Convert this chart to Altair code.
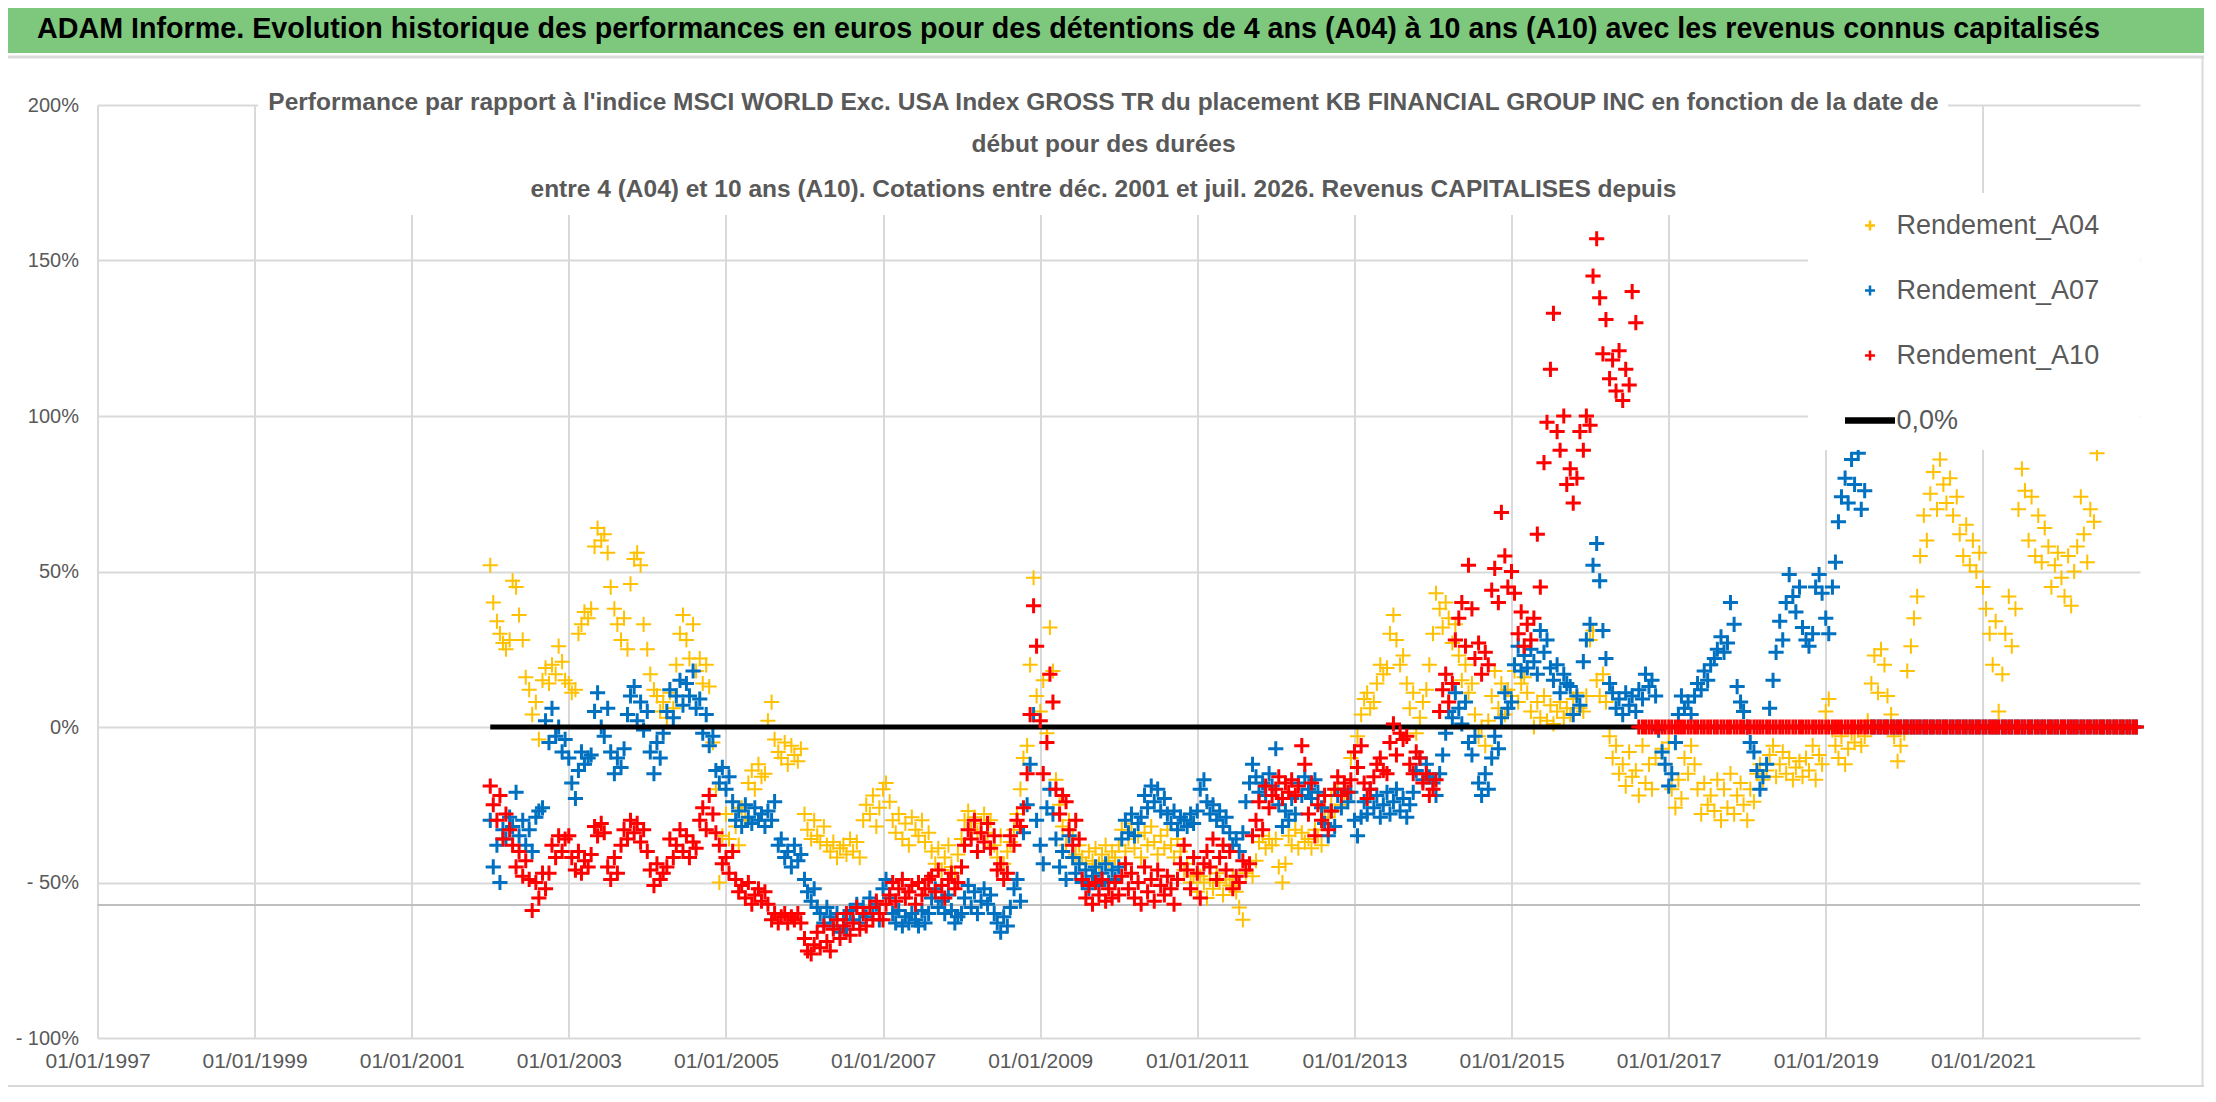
import altair as alt
import pandas as pd

FONT = "Liberation Sans, Arial, sans-serif"
GREY_TXT = "#595959"
GRID = "#d9d9d9"

TITLE = ("ADAM Informe. Evolution historique des performances en euros pour des détentions "
         "de 4 ans (A04) à 10 ans (A10) avec les revenus connus capitalisés")
SUBTITLE = [
    "Performance par rapport à l'indice MSCI WORLD Exc. USA Index GROSS TR  du placement KB FINANCIAL GROUP INC en fonction de la date de",
    "début pour des durées",
    "entre 4 (A04) et 10 ans (A10). Cotations entre déc. 2001 et juil. 2026. Revenus CAPITALISES depuis",
]

SERIES = ["Rendement_A04", "Rendement_A07", "Rendement_A10"]
LEGEND_LABELS = SERIES + ["0,0%"]
COLORS = ["#FFC000", "#0070C0", "#FF0000", "#000000"]
PLUS = "M-1,0H1M0,-1V1"
DASH = "M-5,-0.4H5M-5,0H5M-5,0.4H5"
SHAPES = [PLUS, PLUS, PLUS, DASH]

X_TICK_YEARS = [1997, 1999, 2001, 2003, 2005, 2007, 2009, 2011, 2013, 2015, 2017, 2019, 2021]
Y_TICKS = [-100, -50, 0, 50, 100, 150, 200]
REF_LINE = [-57.2]
ZERO_LINE_DATES = ["2002-01-01", "2022-12-15"]
ZERO_LINE_VALUES = [0.0, 0.0]

# semi-monthly readings (1st and 15th of each month) starting 2002-01-01, in %
A04 = [
    52, 40, 34, 30, 27, 25, 28, 47, 45, 36, 28, 16, 12, 4, 8, -4, 15, 19, 14, 20, 17, 26, 21, 15,  # 2002
    14, 11, 12, 30, 33, 37, 35, 38, 58, 64, 60, 62, 56, 45, 38, 33, 28, 35, 25, 46, 54, 56, 52, 33,  # 2003
    25, 17, 12, 10, 5, 8, 3, 11, 6, 20, 30, 36, 28, 22, 33, 18, 22, 14, 20, 13, -5, -20, -50, -35,  # 2004
    -28, -36, -24, -32, -38, -26, -30, -18, -14, -20, -12, -16, -15, 2, 8, -4, -8, -10, -5, -12, -6, -9, -11, -7,  # 2005
    -28, -33, -36, -30, -35, -37, -32, -38, -40, -37, -42, -39, -38, -41, -36, -40, -37, -42, -30, -25, -28, -22, -32, -26,  # 2006
    -20, -18, -24, -30, -34, -28, -36, -31, -38, -29, -33, -35, -30, -37, -34, -40, -44, -39, -46, -42, -38, -45, -47, -41,  # 2007
    -36, -30, -27, -33, -29, -34, -31, -28, -34, -30, -38, -42, -35, -44, -40, -37, -33, -28, -20, -10, -6, 20, 48, 10,  # 2008
    5, 15, -2, 32, 18, -17, -25, -32, -38, -30, -35, -41, -38, -42, -44, -40, -43, -39, -44, -41, -38, -43, -40, -42,  # 2009
    -38, -33, -40, -36, -31, -39, -35, -42, -34, -38, -32, -37, -41, -35, -39, -33, -38, -42, -36, -40, -46, -44, -50, -48,  # 2010
    -53, -48, -50, -55, -49, -52, -47, -50, -54, -49, -51, -48, -53, -58, -62, -47, -44, -48, -43, -37, -35, -39, -36, -38,  # 2011
    -36, -45, -50, -44, -35, -38, -33, -39, -34, -37, -36, -39, -33, -35, -38, -26, -29, -22, -27, -20, -25, -21, -24, -10,  # 2012
    -8, -3, 4, 9, 11, 6, 8, 14, 20, 17, 19, 30, 36, 28, 20, 23, 14, 6, 11, -2, 3, 8, 12, 20,  # 2013
    30, 43, 38, 32, 40, 35, 27, 33, 23, 15, 20, 11, 14, 4, -3, 0, -6, 2, 10, 18, 6, 14, 4, 12,  # 2014
    10, 18, 8, 14, 16, 11, 5, 0, 8, 3, 10, 2, 7, 1, 5, 8, 3, 6, 4, 9, 11, 6, 5, 10,  # 2015
    28, 31, 15, 10, 17, 8, -3, -10, -6, -15, -12, -19, -8, -16, -14, -22, -6, -18, -12, -20, -10, -1, -7, -12,  # 2016
    -5, -20, -26, -17, -23, -10, -15, -6, -12, -20, -28, -18, -25, -22, -27, -17, -30, -20, -26, -15, -28, -22, -18, -25,  # 2017
    -30, -20, -24, -15, -12, -17, -14, -9, -6, -16, -12, -8, -15, -10, -17, -13, -11, -16, -10, -14, -6, -17, -9, -12,  # 2018
    5, 9, -1, -6, -10, -3, -12, -7, -2, -5, -1, -6, -3, 2, 14, 23, 11, 25, 20, 10, 4, -3, -11, -6,  # 2019
    -2, 18, 26, 35, 42, 55, 68, 60, 75, 82, 70, 86, 78, 72, 80, 68, 74, 62, 55, 65, 52, 60, 50, 56,  # 2020
    45, 38, 30, 20, 34, 5, 17, 30, 42, 26, 38, 70, 83, 76, 60, 74, 55, 68, 53, 64, 58, 45, 52, 56,  # 2021
    48, 42, 55, 39, 50, 58, 74, 62, 53, 70, 66, 88,  # 2022 (first half)
]
A04_ZEROS = [0.0] * 12

A07 = [
    -30, -45, -38, -50, -33, -36, -29, -32, -21, -35, -30, -38, -33, -40, -29, -27, -26, 2, -5, 6, -3, 0, -8, -4,  # 2002
    -10, -18, -23, -14, -8, -12, -10, -9, 5, 11, 0, -3, 6, -8, -15, -10, -13, -7, 4, 10, 13, 2, 8, -1,  # 2003
    5, -8, -15, -5, -10, -2, 5, 12, 3, 10, 15, 7, 14, 10, 18, 6, 9, -2, 4, -6, -3, -14, -18, -13,  # 2004
    -20, -16, -24, -30, -27, -32, -25, -29, -31, -26, -30, -28, -32, -27, -30, -24, -38, -36, -42, -40, -45, -38, -43, -41,  # 2005
    -49, -53, -56, -52, -58, -60, -63, -58, -61, -64, -60, -66, -62, -65, -59, -62, -57, -63, -58, -61, -55, -60, -57, -62,  # 2006
    -52, -49, -55, -60, -63, -59, -64, -61, -63, -60, -62, -64, -59, -63, -60, -55, -52, -58, -56, -60, -54, -59, -63, -61,  # 2007
    -60, -55, -51, -58, -53, -60, -56, -52, -57, -54, -60, -63, -66, -61, -64, -58, -52, -49, -56, -34, -25, -12, 4, -30,  # 2008
    -38, -44, -26, -20, -28, -36, -45, -40, -49, -35, -42, -47, -44, -50, -46, -52, -48, -45, -51, -47, -44, -50, -46, -49,  # 2009
    -45, -36, -30, -34, -28, -35, -31, -29, -22, -26, -19, -24, -20, -27, -23, -28, -31, -27, -33, -29, -30, -32, -28, -31,  # 2010
    -27, -20, -17, -24, -28, -25, -30, -27, -32, -29, -34, -38, -36, -40, -34, -24, -18, -12, -16, -21, -18, -22, -15, -19,  # 2011
    -7, -25, -32, -27, -30, -23, -28, -18, -22, -16, -20, -23, -17, -21, -26, -31, -35, -27, -32, -22, -26, -20, -24, -21,  # 2012
    -30, -35, -29, -24, -28, -20, -26, -22, -29, -25, -21, -28, -24, -20, -27, -23, -29, -25, -21, -14, -10, -17, -12, -16,  # 2013
    -18, -22, -15, -9, -2, 5, 3, 11, 6, 1, 8, -5, -9, -3, -18, -22, -15, -20, -10, -3, -7, 3, 11, 6,  # 2014
    8, 20, 26, 18, 23, 19, 25, 21, 17, 31, 24, 28, 19, 15, 20, 11, 17, 14, 13, 4, 10, 7, 21, 28,  # 2015
    33, 52, 59, 47, 31, 22, 14, 11, 6, 9, 4, 11, 7, 10, 5, 12, 9, 17, 13, 15, 10, -1, -8, -12,  # 2016
    -19, -15, -5, 4, 10, 6, 8, 4, 10, 14, 12, 18, 15, 20, 22, 25, 29, 24, 27, 40, 33, 13, 8, 5,  # 2017
    0, -5, -8, -14, -20, -16, -12, 6, 15, 24, 34, 28, 40, 49, 42, 37, 45, 32, 28, 26, 30, 45, 49, 43,  # 2018
    35, 30, 45, 53, 66, 74, 80, 72, 86, 78, 88, 70, 76, 95,  # 2019 (to mid-July)
]
A07_ZEROS = [0.0] * 82

A10 = [
    -19, -25, -30, -22, -36, -28, -33, -38, -45, -40, -48, -43, -49, -59, -50, -55, -47, -52, -47, -38, -42, -35, -40, -36,  # 2002
    -35, -42, -46, -40, -47, -43, -45, -41, -32, -35, -31, -34, -45, -49, -42, -47, -38, -33, -36, -30, -34, -31, -37, -33,  # 2003
    -40, -46, -51, -44, -49, -47, -45, -36, -42, -38, -33, -40, -35, -42, -37, -39, -30, -26, -33, -22, -28, -34, -38, -44,  # 2004
    -42, -47, -40, -49, -53, -51, -55, -50, -57, -54, -52, -56, -53, -57, -62, -60, -63, -61, -60, -63, -61, -62, -60, -63,  # 2005
    -68, -72, -73, -70, -66, -71, -64, -69, -72, -65, -62, -68, -64, -60, -67, -63, -58, -65, -60, -64, -58, -62, -56, -60,  # 2006
    -62, -57, -54, -50, -56, -52, -49, -55, -53, -51, -57, -50, -54, -52, -49, -48, -53, -46, -51, -55, -49, -47, -52, -50,  # 2007
    -45, -38, -33, -36, -30, -40, -34, -37, -31, -39, -35, -46, -44, -49, -47, -35, -38, -30, -32, -26, -15, 4, 39, 26,  # 2008
    2, -15, -5, 17, 8, -20, -28, -22, -24, -33, -38, -30, -36, -49, -55, -51, -57, -50, -54, -49, -56, -52, -55, -50,  # 2009
    -54, -48, -44, -52, -47, -55, -50, -57, -45, -53, -49, -56, -46, -51, -54, -48, -52, -57, -49, -44, -38, -46, -52, -42,  # 2010
    -47, -55, -44, -40, -45, -36, -49, -42, -38, -46, -40, -52, -48, -50, -43, -46, -44, -35, -30, -24, -33, -19, -26, -22,  # 2011
    -20, -16, -23, -18, -21, -17, -22, -19, -6, -12, -28, -18, -35, -25, -30, -22, -33, -27, -20, -16, -22, -18, -21, -17,  # 2012
    -8, -13, -6, -18, -23, -20, -16, -12, -10, -14, -15, -5, 1, -9, -2, -4, -3, -12, -15, -8, -10, -18, -15, -22,  # 2013
    -20, -17, 5, 12, 17, 8, 14, 28, 35, 40, 26, 52, 38, 22, 27, 17, 24, 20, 44, 51, 40, 69, 55, 45,  # 2014
    50, 43, 30, 37, 26, 33, 28, 35, 62, 45, 85, 98, 115, 133, 95, 89, 100, 78, 83, 72, 80, 95, 89, 100,  # 2015
    97, 145, 157, 138, 120, 131, 112, 118, 108, 121, 105, 115, 110, 140, 130,  # 2016 (to early August)
]
A10_ZEROS = [0.0] * 153


def series_frame(name, values):
    dates = pd.date_range("2002-01-01", periods=len(values), freq="SMS")
    return pd.DataFrame({"date": dates.strftime("%Y-%m-%d"), "value": values, "serie": name})


def utc_day(y):
    return alt.DateTime(year=y, month=1, date=1, utc=True)


X = alt.X(
    "date:T",
    title=None,
    scale=alt.Scale(type="utc", domain=[utc_day(1997), utc_day(2023)]),
    axis=alt.Axis(
        values=[utc_day(y) for y in X_TICK_YEARS],
        labelExpr="utcFormat(datum.value, '%d/%m/%Y')",
        labelFont=FONT, labelFontSize=21, labelColor=GREY_TXT, labelPadding=12,
        labelFlush=False, labelOverlap=False, ticks=False, domain=False,
        grid=True, gridColor=GRID, gridWidth=2,
    ),
)
Y = alt.Y(
    "value:Q",
    title=None,
    scale=alt.Scale(domain=[-100, 200], nice=False, zero=False),
    axis=alt.Axis(
        values=Y_TICKS,
        labelExpr="datum.value < 0 ? '- ' + abs(datum.value) + '%' : datum.value + '%'",
        labelFont=FONT, labelFontSize=20, labelColor=GREY_TXT, labelPadding=19,
        ticks=False, domain=False, grid=True, gridColor=GRID, gridWidth=2,
    ),
)

LEG = alt.Legend(
    title=None, orient="none", legendX=1759, legendY=107,
    labelFont=FONT, labelFontSize=27, labelColor=GREY_TXT, labelOffset=13, labelLimit=500,
    symbolSize=100, symbolStrokeWidth=2.5, rowPadding=37, padding=0,
)
COLOR = alt.Color("serie:N", scale=alt.Scale(domain=LEGEND_LABELS, range=COLORS), legend=LEG)
SHAPE = alt.Shape("serie:N", scale=alt.Scale(domain=LEGEND_LABELS, range=SHAPES), legend=LEG)


def points(name, values, zeros, sw):
    df = series_frame(name, list(values) + list(zeros))
    return alt.Chart(df).mark_point(filled=False, size=230, strokeWidth=sw, opacity=1).encode(
        x=X, y=Y, color=COLOR, shape=SHAPE
    )


ONE = pd.DataFrame({"k": [0]})


def box(x, x2, y, y2, color):
    return alt.Chart(ONE).mark_rect(color=color).encode(
        x=alt.value(x), x2=alt.value(x2), y=alt.value(y), y2=alt.value(y2)
    )


def hline(x, x2, y, color, w):
    return alt.Chart(ONE).mark_rule(color=color, strokeWidth=w).encode(
        x=alt.value(x), x2=alt.value(x2), y=alt.value(y)
    )


def vline(x, y, y2, color, w):
    return alt.Chart(ONE).mark_rule(color=color, strokeWidth=w).encode(
        x=alt.value(x), y=alt.value(y), y2=alt.value(y2)
    )


def label(text, x, y, size, color, align="left", weight="normal"):
    return alt.Chart(ONE).mark_text(
        align=align, baseline="alphabetic", font=FONT, fontSize=size, color=color, fontWeight=weight
    ).encode(x=alt.value(x), y=alt.value(y), text=alt.value(text))


ref_rule = alt.Chart(pd.DataFrame({"value": REF_LINE})).mark_rule(color="#bfbfbf", strokeWidth=2).encode(y=Y)
zero_line = alt.Chart(pd.DataFrame({"date": ZERO_LINE_DATES, "value": ZERO_LINE_VALUES})).mark_line(
    color="black", strokeWidth=5
).encode(x=X, y=Y)

layers = [
    box(-97.5, 2118.5, -97, -52, "#7EC87E"),
    hline(-97.5, 2118.5, -48, GRID, 3),
    vline(-94.5, -48, 981, GRID, 2),
    vline(2105, -48, 981, GRID, 2),
    hline(-97.5, 2118.5, 981, GRID, 2),
    ref_rule,
    points(SERIES[0], A04, A04_ZEROS, 2.0),
    points(SERIES[1], A07, A07_ZEROS, 3.0),
    zero_line,
    points(SERIES[2], A10, A10_ZEROS, 3.0),
    box(160.5, 1850.5, -20, 110, "white"),
    label(SUBTITLE[0], 1006, 5, 24.5, GREY_TXT, align="center", weight="bold"),
    label(SUBTITLE[1], 1006, 47, 24.5, GREY_TXT, align="center", weight="bold"),
    label(SUBTITLE[2], 1006, 92, 24.5, GREY_TXT, align="center", weight="bold"),
    box(1710.5, 2042.5, 88, 345, "white"),
    label(TITLE, -60.5, -67, 28.7, "black", weight="bold"),
]

chart = alt.layer(*layers).properties(
    width=2042.5,
    height=933,
    autosize=alt.AutoSizeParams(type="none"),
    padding={"left": 89.5, "top": 97, "right": 64, "bottom": 50},
    background="white",
).configure_view(stroke=None)

chart.save("out.html", embed_options={"renderer": "svg", "actions": False})
